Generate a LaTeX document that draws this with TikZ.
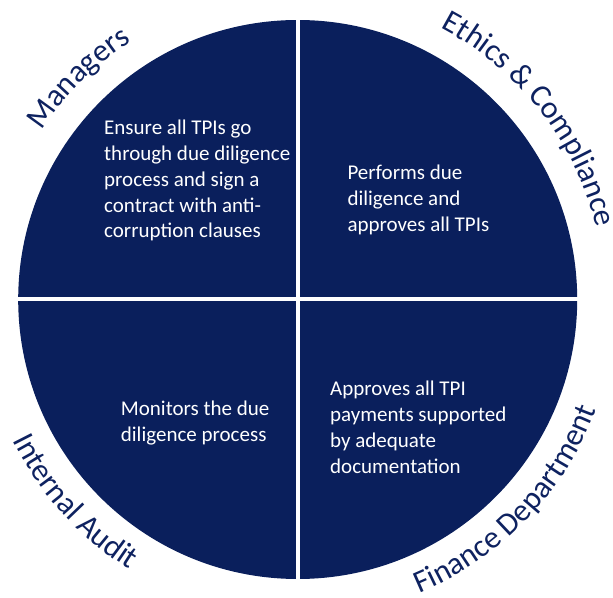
\documentclass[tikz,border=0pt]{standalone}
\usepackage{fontspec}
\setmainfont{Carlito}
\usetikzlibrary{decorations.text,calc}
\definecolor{navy}{HTML}{0A1F5C}
\definecolor{labnavy}{HTML}{0E2260}
\newcommand{\innerfont}{\fontsize{21}{25.7}\selectfont}
\newcommand{\labfont}{\fontsize{31.5}{38}\selectfont}
\tikzset{
  quad/.style={fill=navy},
  gapline/.style={white, line width=4pt},
  inner/.style={anchor=base west, inner sep=0pt, text=white, font=\innerfont},
  toplab/.style={decorate, decoration={text along path, text align=center, text color=labnavy, text={|\labfont|#1}}},
}
\begin{document}
\begin{tikzpicture}[x=1pt,y=1pt]
\useasboundingbox (0,0) rectangle (613,597);
\coordinate (C) at (297.7,297.5);
% circle quadrants
\fill[quad] (C) circle[radius=279.5];
\draw[gapline] ($(C)+(0,-285)$) -- ($(C)+(0,285)$);
\draw[gapline] ($(C)+(-285,0)$) -- ($(C)+(285,0)$);
% outer labels
\path[toplab={Managers}] (C) ++(169.7:307) arc[start angle=169.7, end angle=99.7, radius=307];
\path[toplab={Ethics {\&} Compliance}] (C) ++(77.9:307) arc[start angle=77.9, end angle=-2.1, radius=307];
\path[toplab={Internal Audit}] (C) ++(182.2:318) arc[start angle=182.2, end angle=262.2, radius=318];
\path[toplab={Finance Department}] (C) ++(276.1:318) arc[start angle=276.1, end angle=356.1, radius=318];
% inner texts
\node[inner] (mgr) at (104,462) {\begin{tabular}[t]{@{}l@{}}Ensure all TPIs go\\through due diligence\\process and sign a\\contract with anti-\\corruption clauses\end{tabular}};
\node[inner] (eth) at (347.3,417) {\begin{tabular}[t]{@{}l@{}}Performs due\\diligence and\\approves all TPIs\end{tabular}};
\node[inner] (ia) at (120.7,181) {\begin{tabular}[t]{@{}l@{}}Monitors the due\\diligence process\end{tabular}};
\node[inner] (fin) at (330,201) {\begin{tabular}[t]{@{}l@{}}Approves all TPI\\payments supported\\by adequate\\documentation\end{tabular}};
\end{tikzpicture}
\end{document}
